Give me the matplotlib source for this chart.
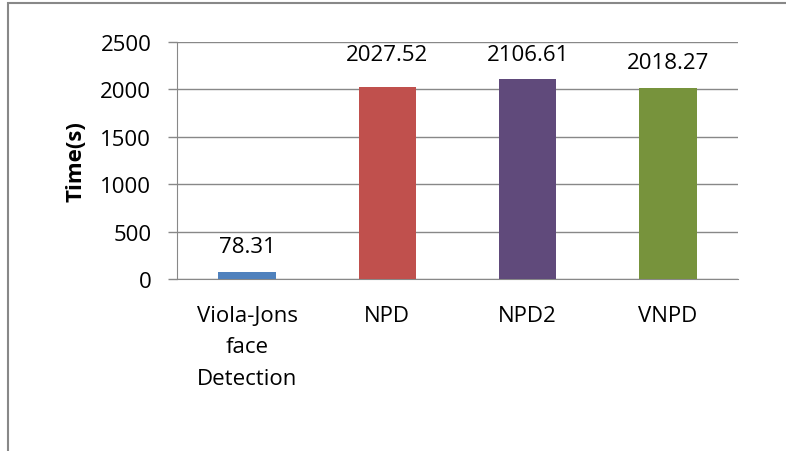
import matplotlib
matplotlib.use("Agg")
import matplotlib.pyplot as plt
from matplotlib.patches import Rectangle

categories = ["Viola-Jons\nface\nDetection", "NPD", "NPD2", "VNPD"]
times = [78.31, 2027.52, 2106.61, 2018.27]
labels = ["78.31", "2027.52", "2106.61", "2018.27"]
colors = ["#4F81BD", "#C0504D", "#604A7B", "#77933C"]
yticks = [0, 500, 1000, 1500, 2000, 2500]
label_gap = [14, 19, 14, 14]  # points above bar top (Excel nudged NPD a bit)

plt.rcParams["font.family"] = ["Open Sans", "DejaVu Sans"]

fig = plt.figure(figsize=(7.86, 4.52), dpi=100)
ax = fig.add_axes([177 / 786, 1 - 280 / 452, (738 - 177) / 786, (280 - 43) / 452])

# outer chart frame (only left and top edges show)
fig.patches.append(Rectangle((8 / 786, -0.1), 1.2, 1 - 4 / 452 + 0.1,
                             transform=fig.transFigure, fill=False,
                             edgecolor="#888888", linewidth=1.5))

x = range(len(categories))
ax.bar(x, times, width=0.41, color=colors, zorder=3)
for i, v in enumerate(times):
    ax.annotate(labels[i], (i, v), xytext=(0, label_gap[i]), textcoords="offset points",
                ha="center", va="baseline", fontsize=16)

ax.set_xlim(-0.5, 3.5)
ax.set_ylim(0, 2500)
ax.set_yticks(yticks)
ax.set_xticks(list(x))
ax.set_xticklabels(categories, fontsize=16, linespacing=1.66)
ax.tick_params(axis="y", labelsize=16, length=6.5, color="#888888", width=1, pad=12)
ax.tick_params(axis="x", length=0, pad=18.5)
ax.yaxis.grid(True, color="#888888", linewidth=1, zorder=0)
for s in ["top", "right"]:
    ax.spines[s].set_visible(False)
ax.spines["left"].set_color("#888888")
ax.spines["bottom"].set_color("#888888")
ax.set_ylabel("Time(s)", fontsize=16, fontweight="bold", labelpad=10)

fig.savefig("out.png", dpi=100)
